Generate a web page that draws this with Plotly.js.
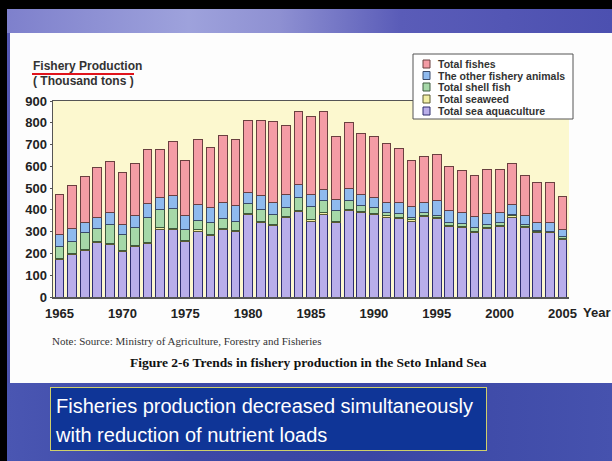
<!DOCTYPE html>
<html>
<head>
<meta charset="utf-8">
<script src="https://cdn.plot.ly/plotly-3.0.1.min.js"></script>
<style>
  html, body { margin: 0; padding: 0; width: 612px; height: 461px; overflow: hidden; background: #000; }
  #slide { position: absolute; left: 7px; top: 9px; width: 605px; height: 452px;
    background: linear-gradient(180deg, #5558b4 0%, #4a52ac 100%); }
  #banner { position: absolute; left: 7px; top: 9px; width: 605px; height: 24px;
    background: linear-gradient(90deg, #7e80cc 0%, #9ea2dc 30%, #8e90d2 45%, #5a5cb8 65%, #4c50b0 100%); }
  #bottom { position: absolute; left: 7px; top: 383px; width: 605px; height: 78px;
    background: linear-gradient(90deg, #4a56b2 0%, #3c48a6 30%, #3a46a4 60%, #4652ae 100%); }
  #white { position: absolute; left: 10px; top: 33px; width: 602px; height: 350px; background: #fdfdfd; }
  #chart { position: absolute; left: 0; top: 0; width: 612px; height: 461px; }
  #note { position: absolute; left: 50px; top: 387px; width: 437px; height: 64px;
    background: #0f3597; border: 1px solid #cfcf6a; color: #fff;
    font-family: "Liberation Sans", Arial, sans-serif; font-size: 20px; line-height: 29px;
    padding: 0 0 0 5px; box-sizing: border-box; padding-top: 4px; }
</style>
</head>
<body>
<div id="slide"></div>
<div id="banner"></div>
<div id="bottom"></div>
<div id="white"></div>
<div id="chart"></div>
<div id="note">Fisheries production decreased simultaneously<br>with reduction of nutrient loads</div>
<script>
// ---- data (thousand tons) ----
const years = [1965,1966,1967,1968,1969,1970,1971,1972,1973,1974,1975,1976,1977,1978,1979,1980,1981,1982,1983,1984,1985,1986,1987,1988,1989,1990,1991,1992,1993,1994,1995,1996,1997,1998,1999,2000,2001,2002,2003,2004,2005];
const seaAquaculture = [170,194,214,248,240,207,233,245,311,308,253,303,283,309,302,378,341,329,363,393,348,380,344,398,386,378,367,360,349,370,360,324,321,298,314,324,367,321,294,294,263];
const seaweed = [6,6,5,6,6,5,5,6,6,6,5,6,5,5,5,6,6,5,5,6,6,6,5,5,5,5,5,5,5,5,5,5,5,5,5,5,5,5,5,5,5];
const shellFish = [54,56,75,60,88,74,83,116,86,92,53,43,53,46,42,45,56,44,41,56,62,58,49,41,30,26,18,18,13,12,10,11,11,14,13,12,6,6,7,4,8];
const otherAnimals = [56,58,50,49,52,48,51,62,53,58,64,73,68,76,69,50,61,55,62,61,54,49,50,56,50,50,46,50,49,48,69,58,53,53,51,49,46,40,34,37,35];
const fishes = [184,199,210,231,234,240,240,249,222,252,253,297,277,305,304,332,347,372,317,337,361,361,291,300,282,276,268,250,212,208,211,199,189,187,203,196,188,187,185,185,151];
const seriesNames = ["Total sea aquaculture","Total seaweed","Total shell fish","The other fishery animals","Total fishes"];
const xTickVals = [1965,1970,1975,1980,1985,1990,1995,2000,2005];
const yTickVals = [0,100,200,300,400,500,600,700,800,900];

// ---- styles ----
const fills = ["#b9aeea","#f2efa6","#a6d8a8","#8fbaee","#f49ca5"];
const edges = ["#2c2c6e","#5a5a30","#3e5a3e","#3a4a6a","#6a4040"];
const seriesData = [seaAquaculture, seaweed, shellFish, otherAnimals, fishes];

const traces = seriesData.map((vals, i) => ({
  type: "bar", x: years, y: vals, name: seriesNames[i],
  marker: { color: fills[i], line: { color: edges[i], width: 1 } },
  showlegend: false, hoverinfo: "skip"
}));

// plot area in pixels
const L = 53, R = 569, T = 101, B = 297;
const px = x => (x - L) / (R - L);
const py = y => (B - y) / (B - T);

const shapes = [];
const annotations = [];

// custom legend (top entry first)
shapes.push({ type: "rect", xref: "paper", yref: "paper", x0: px(413), x1: px(573), y0: py(119), y1: py(54),
  line: { color: "#555", width: 1 }, fillcolor: "#ffffff", layer: "above" });
const legRows = [64, 75.5, 87, 99, 111];
for (let k = 0; k < 5; k++) {
  const i = 4 - k;
  const yc = legRows[k];
  shapes.push({ type: "rect", xref: "paper", yref: "paper", x0: px(423), x1: px(430), y0: py(yc + 4), y1: py(yc - 4),
    line: { color: edges[i], width: 1 }, fillcolor: fills[i], layer: "above" });
  annotations.push({ xref: "paper", yref: "paper", x: px(436), y: py(yc), xanchor: "left", yanchor: "middle",
    text: seriesNames[i], showarrow: false,
    font: { family: "Liberation Sans, Arial, sans-serif", size: 10.5, color: "#333", weight: "bold" } });
}

// y-axis title (two lines) with red underline
annotations.push({ xref: "paper", yref: "paper", x: px(31), y: py(66), xanchor: "left", yanchor: "middle",
  text: "Fishery Production", showarrow: false,
  font: { family: "Liberation Sans, Arial, sans-serif", size: 12, color: "#333", weight: "bold" } });
annotations.push({ xref: "paper", yref: "paper", x: px(31), y: py(81), xanchor: "left", yanchor: "middle",
  text: "( Thousand tons )", showarrow: false,
  font: { family: "Liberation Sans, Arial, sans-serif", size: 12, color: "#333", weight: "bold" } });
shapes.push({ type: "line", xref: "paper", yref: "paper", x0: px(32), x1: px(134), y0: py(74), y1: py(74),
  line: { color: "#e0141c", width: 2 } });

// x-axis suffix
annotations.push({ xref: "paper", yref: "paper", x: px(581), y: py(312), xanchor: "left", yanchor: "middle",
  text: "Year", showarrow: false,
  font: { family: "Liberation Sans, Arial, sans-serif", size: 13, color: "#222", weight: "bold" } });

// note and caption
annotations.push({ xref: "paper", yref: "paper", x: px(50), y: py(341), xanchor: "left", yanchor: "middle",
  text: "Note: Source: Ministry of Agriculture, Forestry and Fisheries", showarrow: false,
  font: { family: "Liberation Serif, Times New Roman, serif", size: 11, color: "#333" } });
annotations.push({ xref: "paper", yref: "paper", x: px(128), y: py(362), xanchor: "left", yanchor: "middle",
  text: "Figure 2-6 Trends in fishery production in the Seto Inland Sea", showarrow: false,
  font: { family: "Liberation Serif, Times New Roman, serif", size: 13.5, color: "#111", weight: "bold" } });

const layout = {
  width: 612, height: 461,
  margin: { l: L, r: 612 - R, t: T, b: 461 - B, pad: 0 },
  paper_bgcolor: "rgba(0,0,0,0)",
  plot_bgcolor: "#fcf8cf",
  barmode: "stack",
  bargap: 0.3,
  showlegend: false,
  xaxis: {
    range: [1964.48, 2005.52], tickvals: xTickVals, ticktext: xTickVals.map(String),
    showgrid: false, zeroline: false, showline: true, mirror: true, linecolor: "#555", linewidth: 1.5,
    ticks: "", ticklabelstandoff: 4,
    tickfont: { family: "Liberation Sans, Arial, sans-serif", size: 13, color: "#222", weight: "bold" }
  },
  yaxis: {
    range: [0, 900], tickvals: yTickVals, showgrid: false, zeroline: false,
    showline: true, linecolor: "#555", linewidth: 1.5, ticks: "outside", ticklen: 2, tickcolor: "#555",
    tickfont: { family: "Liberation Sans, Arial, sans-serif", size: 13, color: "#222", weight: "bold" }
  },
  shapes: shapes,
  annotations: annotations
};

Plotly.newPlot("chart", traces, layout, { displayModeBar: false, staticPlot: true });
</script>
</body>
</html>
